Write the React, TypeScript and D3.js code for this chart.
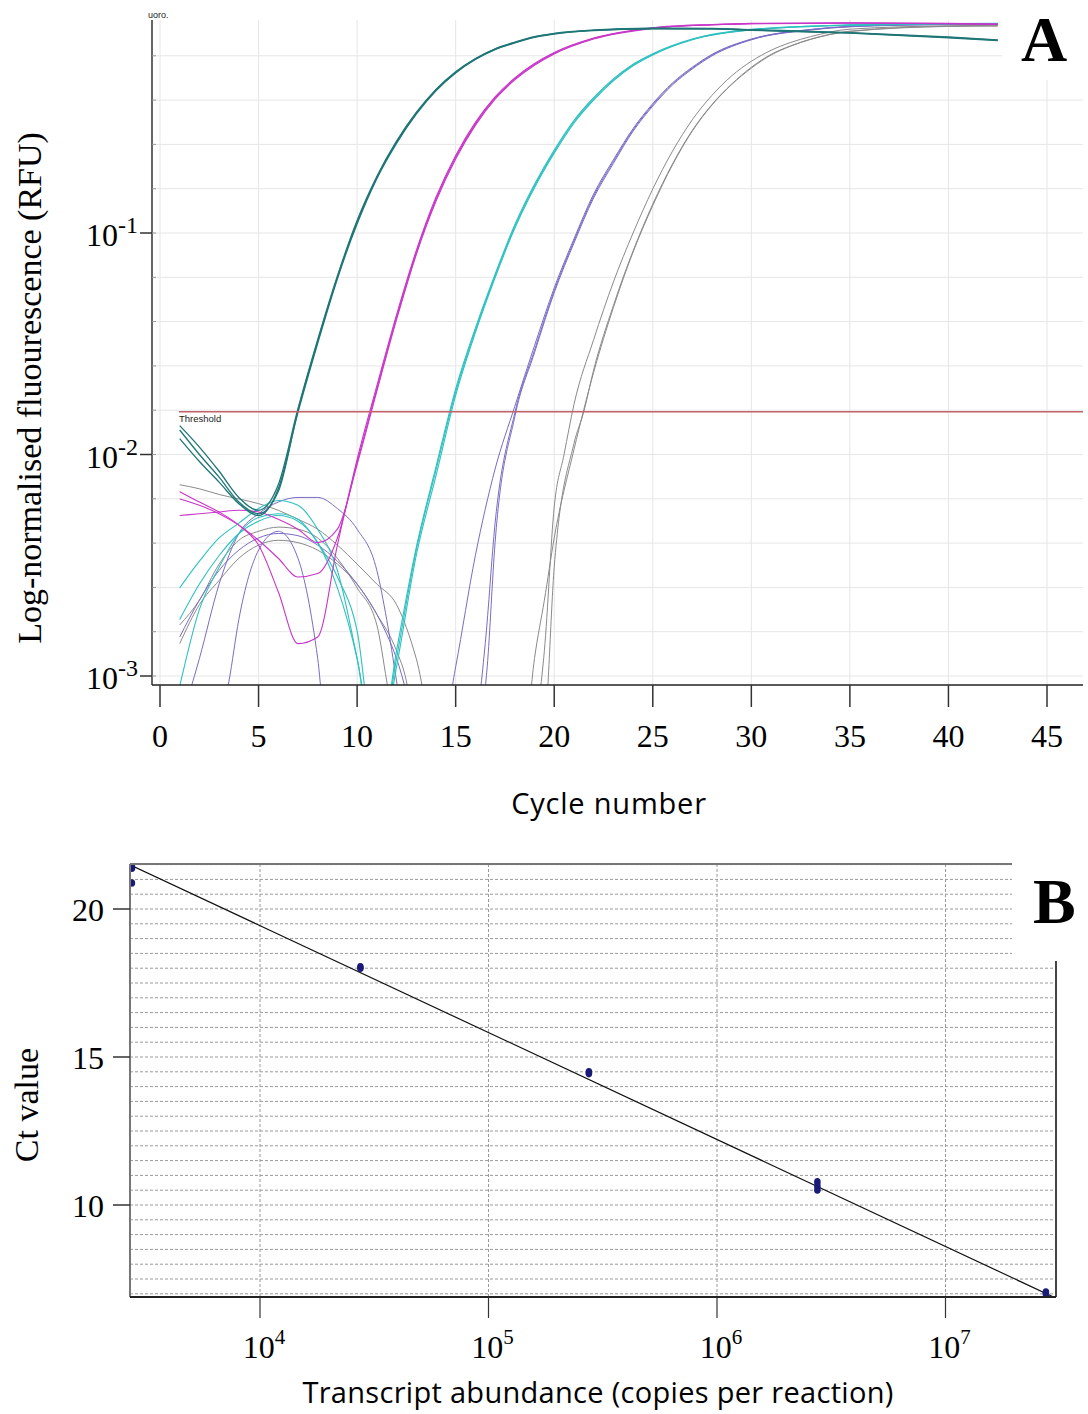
import React from 'react';
import * as d3 from 'd3';

type Pt = [number, number];

// ---------- Panel A: amplification curves (cycle, normalised RFU) ----------
const cycleTicks = [0, 5, 10, 15, 20, 25, 30, 35, 40, 45];
const rfuTicks = [1e-3, 1e-2, 1e-1];
const rfuTickExp = ['-3', '-2', '-1'];
const thresholdRFU = 0.0156;

const teal1: Pt[] = [[1, 0.0129], [2, 0.0100], [3, 0.0079], [4, 0.0061], [5, 0.0054], [6, 0.0068], [7, 0.0158], [8, 0.0324], [9, 0.0631], [10, 0.112], [11, 0.178], [12, 0.257], [13, 0.347], [14, 0.442], [15, 0.531], [16, 0.610], [17, 0.676], [18, 0.724], [19, 0.767], [20, 0.794], [22, 0.822], [25, 0.838], [28, 0.836], [30, 0.825], [35, 0.800], [40, 0.764], [42.5, 0.742]];
const teal2: Pt[] = [[1, 0.0118], [2, 0.0093], [3, 0.0075], [4, 0.0060], [5, 0.0053], [6, 0.0070], [7, 0.0155], [8, 0.0318], [9, 0.0622], [10, 0.110], [11, 0.176], [12, 0.254], [13, 0.344], [14, 0.439], [15, 0.528], [16, 0.607], [17, 0.673], [18, 0.721], [19, 0.764], [20, 0.791], [22, 0.820], [25, 0.836], [28, 0.835], [30, 0.823], [35, 0.798], [40, 0.761], [42.5, 0.738]];
const teal3: Pt[] = [[1, 0.0135], [2, 0.0108], [3, 0.0084], [4, 0.0064], [5, 0.0056], [6, 0.0073], [7, 0.0161], [8, 0.0330], [9, 0.0640], [10, 0.114], [11, 0.180], [12, 0.260], [13, 0.350], [14, 0.445], [15, 0.534], [16, 0.613], [17, 0.679], [18, 0.727], [19, 0.770], [20, 0.797], [22, 0.825], [25, 0.840], [28, 0.838], [30, 0.828], [35, 0.803], [40, 0.767], [42.5, 0.745]];

const magenta1: Pt[] = [[1, 0.0068], [2, 0.0061], [3, 0.0055], [4, 0.0048], [5, 0.0039], [6, 0.0024], [7, 0.0014], [8, 0.0015], [9, 0.0039], [10, 0.0095], [11, 0.0204], [12, 0.0427], [13, 0.0832], [14, 0.145], [15, 0.224], [16, 0.316], [17, 0.412], [18, 0.501], [19, 0.582], [20, 0.653], [22, 0.759], [25, 0.845], [28, 0.874], [30, 0.884], [35, 0.889], [40, 0.884], [42.5, 0.878]];
const magenta2: Pt[] = [[1, 0.0063], [2, 0.0059], [3, 0.0054], [4, 0.0048], [5, 0.0041], [6, 0.0034], [7, 0.0028], [8, 0.0029], [9, 0.0042], [10, 0.0092], [11, 0.0198], [12, 0.0416], [13, 0.0815], [14, 0.142], [15, 0.220], [16, 0.311], [17, 0.407], [18, 0.496], [19, 0.577], [20, 0.648], [22, 0.755], [25, 0.842], [28, 0.872], [30, 0.882], [35, 0.887], [40, 0.882], [42.5, 0.876]];
const magenta3: Pt[] = [[1, 0.0053], [2, 0.0054], [3, 0.0055], [4, 0.0056], [5, 0.0055], [6, 0.0051], [7, 0.0046], [8, 0.0040], [9, 0.0046], [10, 0.0090], [11, 0.0193], [12, 0.0406], [13, 0.0798], [14, 0.139], [15, 0.216], [16, 0.306], [17, 0.402], [18, 0.491], [19, 0.572], [20, 0.643], [22, 0.751], [25, 0.839], [28, 0.870], [30, 0.880], [35, 0.885], [40, 0.880], [42.5, 0.874]];

const cyan1: Pt[] = [[1, 0.0025], [2, 0.0033], [3, 0.0042], [4, 0.0049], [5, 0.0057], [6, 0.0062], [7, 0.0059], [8, 0.0046], [9, 0.0030], [10, 0.0012], [11, 0.0004], [12, 0.0012], [13, 0.0037], [14, 0.0085], [15, 0.0192], [16, 0.0364], [17, 0.0641], [18, 0.107], [19, 0.163], [20, 0.233], [21, 0.318], [22, 0.403], [23, 0.491], [24, 0.573], [25, 0.641], [27, 0.748], [30, 0.828], [35, 0.868], [40, 0.880], [42.5, 0.882]];
const cyan2: Pt[] = [[1, 0.0009], [2, 0.0020], [3, 0.0031], [4, 0.0044], [5, 0.0052], [6, 0.0054], [7, 0.0051], [8, 0.0040], [9, 0.0028], [10, 0.0016], [11, 0.0004], [12, 0.0011], [13, 0.0035], [14, 0.0080], [15, 0.0185], [16, 0.0355], [17, 0.0628], [18, 0.105], [19, 0.160], [20, 0.229], [21, 0.313], [22, 0.398], [23, 0.486], [24, 0.568], [25, 0.636], [27, 0.745], [30, 0.825], [35, 0.866], [40, 0.878], [42.5, 0.880]];
const cyan3: Pt[] = [[1, 0.0018], [2, 0.0026], [3, 0.0035], [4, 0.0044], [5, 0.0050], [6, 0.0053], [7, 0.0050], [8, 0.0040], [9, 0.0025], [10, 0.0012], [11, 0.0004], [12, 0.0013], [13, 0.0038], [14, 0.0088], [15, 0.0198], [16, 0.0372], [17, 0.0652], [18, 0.109], [19, 0.166], [20, 0.237], [21, 0.322], [22, 0.408], [23, 0.496], [24, 0.578], [25, 0.645], [27, 0.751], [30, 0.831], [35, 0.870], [40, 0.882], [42.5, 0.884]];

const purple1: Pt[] = [[1, 0.0006], [2, 0.0012], [3, 0.0026], [4, 0.0044], [5, 0.0054], [6, 0.0061], [7, 0.0064], [8, 0.0064], [9, 0.0057], [10, 0.0046], [11, 0.0030], [11.5, 0.0018], [12, 0.00095], [12.5, 0.0005], [15, 0.0004], [16, 0.0006], [16.5, 0.0014], [17, 0.0049], [18, 0.0154], [19, 0.0296], [20, 0.0549], [21, 0.092], [22, 0.147], [23, 0.210], [24, 0.292], [25, 0.379], [26, 0.471], [27, 0.555], [28, 0.635], [30, 0.748], [33, 0.828], [35, 0.855], [40, 0.875], [42.5, 0.878]];
const purple2: Pt[] = [[1, 0.0002], [2, 0.0003], [3, 0.0006], [3.5, 0.00095], [4, 0.0018], [5, 0.0037], [6, 0.0045], [7, 0.0034], [8, 0.0012], [8.5, 0.0005], [15, 0.0004], [16, 0.0005], [16.6, 0.0011], [17, 0.0040], [18, 0.0148], [19, 0.0288], [20, 0.0538], [21, 0.090], [22, 0.144], [23, 0.206], [24, 0.288], [25, 0.374], [26, 0.466], [27, 0.550], [28, 0.630], [30, 0.745], [33, 0.825], [35, 0.853], [40, 0.873], [42.5, 0.876]];
const purple3: Pt[] = [[1, 0.0015], [2, 0.0022], [3, 0.0030], [4, 0.0037], [5, 0.0042], [6, 0.0044], [7, 0.0043], [8, 0.0039], [9, 0.0033], [10, 0.0026], [11, 0.0019], [12, 0.0012], [13, 0.0006], [14, 0.0004], [15, 0.0011], [16, 0.0035], [17, 0.0086], [18, 0.0165], [19, 0.0310], [20, 0.0565], [21, 0.094], [22, 0.150], [23, 0.214], [24, 0.296], [25, 0.384], [26, 0.476], [27, 0.560], [28, 0.640], [30, 0.751], [33, 0.830], [35, 0.857], [40, 0.877], [42.5, 0.880]];

const gray1: Pt[] = [[1, 0.0073], [2, 0.0070], [3, 0.0066], [4, 0.0063], [5, 0.0060], [6, 0.0056], [7, 0.0051], [8, 0.0046], [9, 0.0039], [10, 0.0032], [11, 0.0026], [12, 0.0021], [13, 0.0012], [14, 0.0005], [18, 0.0004], [19, 0.0006], [19.5, 0.0013], [20, 0.0058], [20.5, 0.0100], [21, 0.0168], [22, 0.0330], [23, 0.0600], [24, 0.100], [25, 0.158], [26, 0.234], [27, 0.324], [28, 0.418], [29, 0.512], [30, 0.596], [31, 0.668], [32, 0.725], [33, 0.770], [35, 0.832], [40, 0.862], [42.5, 0.866]];
const gray2: Pt[] = [[1, 0.0014], [2, 0.0021], [3, 0.0027], [4, 0.0034], [5, 0.0039], [6, 0.0041], [7, 0.0040], [8, 0.0037], [9, 0.0032], [10, 0.0026], [11, 0.0019], [12, 0.0013], [12.5, 0.00095], [13, 0.0005], [18, 0.0004], [19.5, 0.0006], [20, 0.0031], [21, 0.0112], [21.5, 0.0156], [22, 0.0241], [23, 0.0470], [24, 0.083], [25, 0.135], [26, 0.205], [27, 0.290], [28, 0.380], [29, 0.470], [30, 0.560], [31, 0.640], [32, 0.700], [33, 0.750], [35, 0.815], [40, 0.858], [42.5, 0.862]];
const gray3: Pt[] = [[1, 0.0017], [2, 0.0022], [3, 0.0032], [4, 0.0041], [5, 0.0045], [6, 0.0047], [7, 0.0046], [8, 0.0042], [9, 0.0034], [10, 0.0025], [11, 0.0017], [11.5, 0.00095], [12, 0.0005], [18, 0.0004], [18.5, 0.0005], [19, 0.0012], [19.5, 0.0022], [20, 0.0042], [21, 0.0105], [22, 0.0235], [23, 0.0460], [24, 0.082], [25, 0.133], [26, 0.203], [27, 0.288], [28, 0.378], [29, 0.468], [30, 0.555], [31, 0.636], [32, 0.698], [33, 0.748], [35, 0.812], [40, 0.856], [42.5, 0.860]];

const curveGroups = [
  { color: '#8a8a8a', width: 1, runs: [gray1, gray2, gray3] },
  { color: '#7a6cc4', width: 1, runs: [purple1, purple2, purple3] },
  { color: '#2fc0c0', width: 1.1, runs: [cyan1, cyan2, cyan3] },
  { color: '#c836c8', width: 1.1, runs: [magenta1, magenta2, magenta3] },
  { color: '#1f7676', width: 1.3, runs: [teal1, teal2, teal3] },
];

// ---------- Panel B: standard curve ----------
const abundanceTicks = [1e4, 1e5, 1e6, 1e7];
const abundanceTickExp = ['4', '5', '6', '7'];
const ctTicks = [10, 15, 20];
const ctGrid = d3.range(7, 21.51, 0.5);
const copiesPerReaction = [2750, 2750, 2750, 27500, 27500, 275000, 275000, 2750000, 2750000, 2750000, 27500000, 27500000];
const ctMeasured = [21.42, 21.38, 20.88, 18.05, 18.0, 14.50, 14.44, 10.78, 10.64, 10.51, 7.06, 6.99];
const fitSlope = -3.613;
const fitIntercept = 33.89;

const SERIF = "'Liberation Serif', 'Times New Roman', serif";
const SANS = "'Open Sans', 'DejaVu Sans', sans-serif";

export default function App() {
  // panel A geometry
  const A = { left: 152, right: 1083, top: 20, bottom: 685 };
  const xA = d3.scaleLinear().domain([0, 45]).range([160, 1047]);
  const yA = d3.scaleLog().domain([1e-3, 1]).range([676, 11.5]);
  const lineA = d3.line<Pt>().x(d => xA(d[0])).y(d => yA(d[1])).curve(d3.curveMonotoneX);
  const gridA = d3.range(0, 15).map(k => Math.pow(10, -3 + 0.2 * k)).filter(v => yA(v) >= A.top);

  // panel B geometry
  const B = { left: 130, right: 1056, top: 864, bottom: 1297 };
  const xB = d3.scaleLog().domain([1e4, 1e7]).range([260, 945.5]);
  const yB = d3.scaleLinear().domain([10, 20]).range([1205, 909]);
  const fitLine = d3.line<number>()
    .x(n => xB(n))
    .y(n => yB(fitIntercept + fitSlope * Math.log10(n)));
  const fitDomain = [xB.invert(B.left), xB.invert(B.right)];

  return (
    <div style={{ position: 'absolute', left: 0, top: 0, width: 1088, height: 1414, background: '#fff' }}>
      <svg width={1088} height={1414} viewBox="0 0 1088 1414" style={{ display: 'block' }}>
        <defs>
          <clipPath id="clipA">
            <rect x={A.left} y={A.top} width={A.right - A.left} height={A.bottom - A.top} />
          </clipPath>
          <clipPath id="clipB">
            <rect x={B.left} y={B.top} width={B.right - B.left} height={B.bottom - B.top} />
          </clipPath>
        </defs>
        <rect width={1088} height={1414} fill="#fff" />

        {/* ---------------- Panel A ---------------- */}
        <g>
          {gridA.map((v, i) => (
            <line key={'gh' + i} x1={A.left} x2={A.right} y1={yA(v)} y2={yA(v)} stroke="#e6e6e6" strokeWidth={1} />
          ))}
          {cycleTicks.map(c => (
            <line key={'gv' + c} x1={xA(c)} x2={xA(c)} y1={A.top} y2={A.bottom} stroke="#e6e6e6" strokeWidth={1} />
          ))}

          <g clipPath="url(#clipA)">
            {curveGroups.map((g, gi) =>
              g.runs.map((run, ri) => (
                <path key={gi + '-' + ri} d={lineA(run) || ''} fill="none" stroke={g.color} strokeWidth={g.width} />
              ))
            )}
            <line x1={179} x2={A.right} y1={yA(thresholdRFU)} y2={yA(thresholdRFU)} stroke="#c46068" strokeWidth={1.5} />
          </g>
          <text x={179} y={yA(thresholdRFU) + 10} fontFamily="'Liberation Sans', Arial, sans-serif" fontSize={9.5} fill="#222">Threshold</text>
          <text x={148} y={18} fontFamily="'Liberation Sans', Arial, sans-serif" fontSize={9} fill="#222">uoro.</text>

          {/* white box behind the panel letter */}
          <rect x={1002} y={0} width={86} height={80} fill="#fff" />
          <text x={1021} y={61} fontFamily={SERIF} fontWeight="bold" fontSize={64} fill="#000">A</text>

          {/* y axis */}
          <line x1={A.left} x2={A.left} y1={A.top} y2={A.bottom} stroke="#666" strokeWidth={2} />
          {gridA.map((v, i) => (
            <line key={'mt' + i} x1={A.left} x2={A.left + 4} y1={yA(v)} y2={yA(v)} stroke="#999" strokeWidth={1} />
          ))}
          {rfuTicks.map((v, i) => (
            <g key={'yt' + i}>
              <line x1={140} x2={A.left} y1={yA(v)} y2={yA(v)} stroke="#333" strokeWidth={1.5} />
              <text x={138} y={yA(v) + 13} textAnchor="end" fontFamily={SERIF} fontSize={32} fill="#000">
                10<tspan dy={-13} fontSize={24}>{rfuTickExp[i]}</tspan>
              </text>
            </g>
          ))}
          <text transform={`translate(41,388) rotate(-90)`} textAnchor="middle" fontFamily={SERIF} fontSize={34} fill="#000">
            Log-normalised  fluourescence  (RFU)
          </text>

          {/* x axis */}
          <line x1={A.left} x2={A.right} y1={A.bottom} y2={A.bottom} stroke="#222" strokeWidth={1.5} />
          {cycleTicks.map(c => (
            <g key={'xt' + c}>
              <line x1={xA(c)} x2={xA(c)} y1={A.bottom} y2={707} stroke="#333" strokeWidth={1.5} />
              <text x={xA(c)} y={747} textAnchor="middle" fontFamily={SERIF} fontSize={32} fill="#000">{c}</text>
            </g>
          ))}
          <text x={609} y={814} textAnchor="middle" fontFamily={SANS} fontSize={29} letterSpacing={0.8} fill="#000">Cycle number</text>
        </g>

        {/* ---------------- Panel B ---------------- */}
        <g>
          {ctGrid.map(v => (
            <line key={'bh' + v} x1={B.left} x2={B.right} y1={yB(v)} y2={yB(v)} stroke="#9a9a9a" strokeWidth={1} strokeDasharray="3 2" />
          ))}
          {abundanceTicks.map(n => (
            <line key={'bv' + n} x1={xB(n)} x2={xB(n)} y1={B.top} y2={B.bottom} stroke="#9a9a9a" strokeWidth={1} strokeDasharray="3 2" />
          ))}

          <g clipPath="url(#clipB)">
            <path d={fitLine(fitDomain) || ''} fill="none" stroke="#111" strokeWidth={1.2} />
            {copiesPerReaction.map((n, i) => (
              <ellipse key={'pt' + i} cx={xB(n)} cy={yB(ctMeasured[i])} rx={3.3} ry={3.8} fill="#1a1a78" />
            ))}
          </g>

          {/* frame */}
          <line x1={B.left} x2={B.right} y1={B.top} y2={B.top} stroke="#777" strokeWidth={2} />
          <line x1={B.right} x2={B.right} y1={B.top} y2={B.bottom} stroke="#444" strokeWidth={2} />
          <line x1={B.left} x2={B.left} y1={B.top} y2={B.bottom} stroke="#777" strokeWidth={2} />
          <line x1={B.left} x2={B.right} y1={B.bottom} y2={B.bottom} stroke="#222" strokeWidth={2} />

          {/* white box behind the panel letter */}
          <rect x={1012} y={840} width={76} height={121} fill="#fff" />
          <text x={1033} y={923} fontFamily={SERIF} fontWeight="bold" fontSize={64} fill="#000">B</text>

          {ctTicks.map(v => (
            <g key={'byt' + v}>
              <line x1={113} x2={B.left} y1={yB(v)} y2={yB(v)} stroke="#333" strokeWidth={1.5} />
              <text x={104} y={yB(v) + 12} textAnchor="end" fontFamily={SERIF} fontSize={32} fill="#000">{v}</text>
            </g>
          ))}
          <text transform={`translate(38,1105) rotate(-90)`} textAnchor="middle" fontFamily={SERIF} fontSize={34} fill="#000">Ct value</text>

          {abundanceTicks.map((n, i) => (
            <g key={'bxt' + n}>
              <line x1={xB(n)} x2={xB(n)} y1={B.bottom} y2={1318} stroke="#333" strokeWidth={1.2} />
              <text x={xB(n) + 4} y={1358} textAnchor="middle" fontFamily={SERIF} fontSize={32} fill="#000">
                10<tspan dy={-14} fontSize={21}>{abundanceTickExp[i]}</tspan>
              </text>
            </g>
          ))}
          <text x={598} y={1403} textAnchor="middle" fontFamily={SANS} fontSize={29} letterSpacing={0.3} fill="#000">
            Transcript abundance (copies per reaction)
          </text>
        </g>
      </svg>
    </div>
  );
}
